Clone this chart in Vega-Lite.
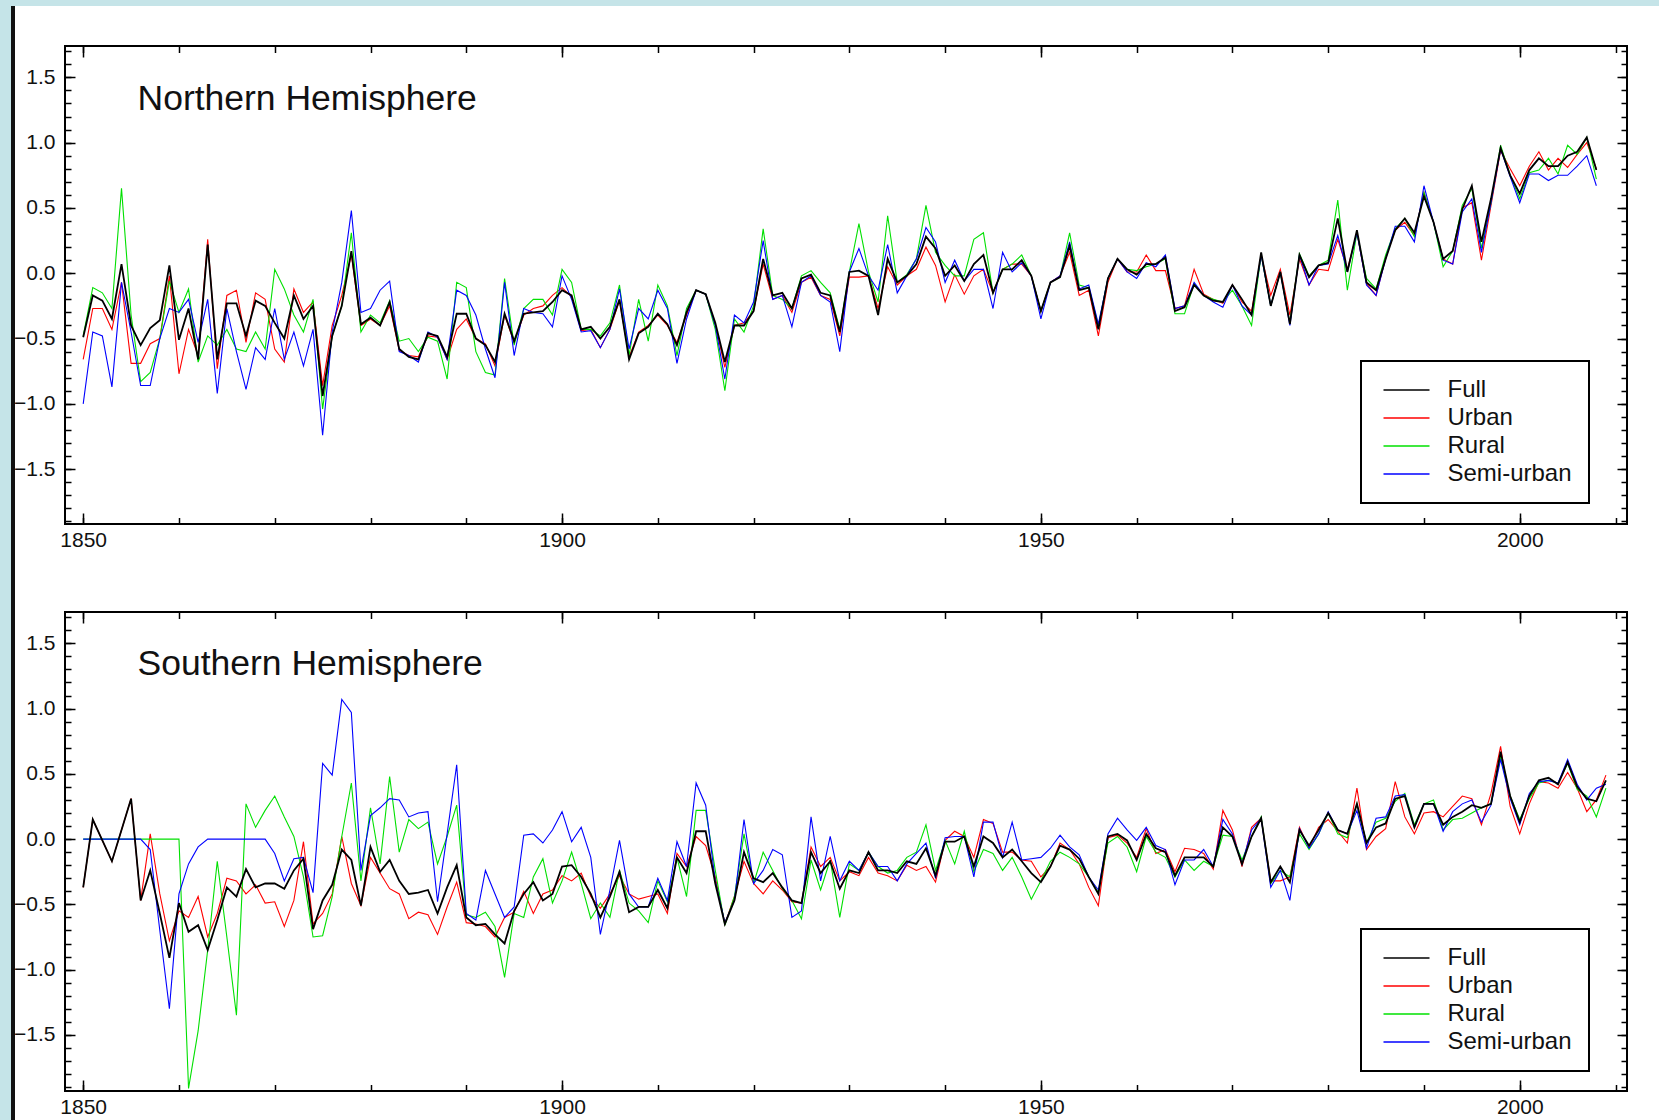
{
  "$schema": "https://vega.github.io/schema/vega-lite/v6.json",
  "background": "white",
  "padding": 0,
  "spacing": 0,
  "config": {
    "view": {"stroke": "black", "strokeWidth": 2},
    "font": "Liberation Sans",
    "axis": {"domain": false, "grid": false, "labelFont": "Liberation Sans", "labelFontSize": 21, "labelColor": "#111111", "tickColor": "#000000", "tickWidth": 1.5, "labelFlush": false, "title": null},
    "legend": {"strokeWidth": 2}
  },
  "resolve": {"scale": {"color": "independent", "x": "independent", "y": "independent"}, "legend": {"color": "independent"}},
  "datasets": {
    "nh": [
      {"year":1850,"Full":-0.49,"Urban":-0.66,"Rural":-0.48,"Semi-urban":-1.00},
      {"year":1851,"Full":-0.17,"Urban":-0.27,"Rural":-0.11,"Semi-urban":-0.45},
      {"year":1852,"Full":-0.21,"Urban":-0.27,"Rural":-0.15,"Semi-urban":-0.48},
      {"year":1853,"Full":-0.35,"Urban":-0.43,"Rural":-0.27,"Semi-urban":-0.87},
      {"year":1854,"Full":0.07,"Urban":-0.07,"Rural":0.65,"Semi-urban":-0.07},
      {"year":1855,"Full":-0.40,"Urban":-0.69,"Rural":-0.32,"Semi-urban":-0.45},
      {"year":1856,"Full":-0.55,"Urban":-0.69,"Rural":-0.83,"Semi-urban":-0.86},
      {"year":1857,"Full":-0.42,"Urban":-0.54,"Rural":-0.76,"Semi-urban":-0.86},
      {"year":1858,"Full":-0.36,"Urban":-0.50,"Rural":-0.50,"Semi-urban":-0.50},
      {"year":1859,"Full":0.06,"Urban":-0.02,"Rural":-0.06,"Semi-urban":-0.27},
      {"year":1860,"Full":-0.51,"Urban":-0.77,"Rural":-0.30,"Semi-urban":-0.30},
      {"year":1861,"Full":-0.27,"Urban":-0.43,"Rural":-0.12,"Semi-urban":-0.20},
      {"year":1862,"Full":-0.66,"Urban":-0.63,"Rural":-0.68,"Semi-urban":-0.53},
      {"year":1863,"Full":0.22,"Urban":0.26,"Rural":-0.48,"Semi-urban":-0.20},
      {"year":1864,"Full":-0.66,"Urban":-0.73,"Rural":-0.55,"Semi-urban":-0.92},
      {"year":1865,"Full":-0.23,"Urban":-0.17,"Rural":-0.43,"Semi-urban":-0.27},
      {"year":1866,"Full":-0.23,"Urban":-0.13,"Rural":-0.58,"Semi-urban":-0.60},
      {"year":1867,"Full":-0.48,"Urban":-0.53,"Rural":-0.60,"Semi-urban":-0.89},
      {"year":1868,"Full":-0.21,"Urban":-0.15,"Rural":-0.45,"Semi-urban":-0.57},
      {"year":1869,"Full":-0.25,"Urban":-0.20,"Rural":-0.58,"Semi-urban":-0.66},
      {"year":1870,"Full":-0.38,"Urban":-0.58,"Rural":0.03,"Semi-urban":-0.27},
      {"year":1871,"Full":-0.50,"Urban":-0.68,"Rural":-0.12,"Semi-urban":-0.66},
      {"year":1872,"Full":-0.17,"Urban":-0.12,"Rural":-0.32,"Semi-urban":-0.45},
      {"year":1873,"Full":-0.35,"Urban":-0.30,"Rural":-0.45,"Semi-urban":-0.71},
      {"year":1874,"Full":-0.25,"Urban":-0.22,"Rural":-0.20,"Semi-urban":-0.43},
      {"year":1875,"Full":-0.94,"Urban":-0.86,"Rural":-1.04,"Semi-urban":-1.24},
      {"year":1876,"Full":-0.48,"Urban":-0.40,"Rural":-0.48,"Semi-urban":-0.45},
      {"year":1877,"Full":-0.25,"Urban":-0.17,"Rural":-0.25,"Semi-urban":-0.07},
      {"year":1878,"Full":0.17,"Urban":0.14,"Rural":0.31,"Semi-urban":0.48},
      {"year":1879,"Full":-0.39,"Urban":-0.40,"Rural":-0.45,"Semi-urban":-0.30},
      {"year":1880,"Full":-0.34,"Urban":-0.35,"Rural":-0.32,"Semi-urban":-0.27},
      {"year":1881,"Full":-0.40,"Urban":-0.40,"Rural":-0.38,"Semi-urban":-0.13},
      {"year":1882,"Full":-0.22,"Urban":-0.25,"Rural":-0.21,"Semi-urban":-0.06},
      {"year":1883,"Full":-0.58,"Urban":-0.59,"Rural":-0.52,"Semi-urban":-0.60},
      {"year":1884,"Full":-0.64,"Urban":-0.63,"Rural":-0.50,"Semi-urban":-0.63},
      {"year":1885,"Full":-0.66,"Urban":-0.64,"Rural":-0.60,"Semi-urban":-0.68},
      {"year":1886,"Full":-0.46,"Urban":-0.48,"Rural":-0.49,"Semi-urban":-0.45},
      {"year":1887,"Full":-0.48,"Urban":-0.49,"Rural":-0.52,"Semi-urban":-0.49},
      {"year":1888,"Full":-0.64,"Urban":-0.66,"Rural":-0.81,"Semi-urban":-0.66},
      {"year":1889,"Full":-0.31,"Urban":-0.43,"Rural":-0.07,"Semi-urban":-0.13},
      {"year":1890,"Full":-0.31,"Urban":-0.35,"Rural":-0.11,"Semi-urban":-0.17},
      {"year":1891,"Full":-0.50,"Urban":-0.50,"Rural":-0.60,"Semi-urban":-0.32},
      {"year":1892,"Full":-0.55,"Urban":-0.54,"Rural":-0.76,"Semi-urban":-0.58},
      {"year":1893,"Full":-0.68,"Urban":-0.71,"Rural":-0.78,"Semi-urban":-0.80},
      {"year":1894,"Full":-0.31,"Urban":-0.32,"Rural":-0.04,"Semi-urban":-0.07},
      {"year":1895,"Full":-0.52,"Urban":-0.53,"Rural":-0.55,"Semi-urban":-0.63},
      {"year":1896,"Full":-0.31,"Urban":-0.32,"Rural":-0.27,"Semi-urban":-0.27},
      {"year":1897,"Full":-0.30,"Urban":-0.27,"Rural":-0.20,"Semi-urban":-0.30},
      {"year":1898,"Full":-0.29,"Urban":-0.25,"Rural":-0.20,"Semi-urban":-0.31},
      {"year":1899,"Full":-0.22,"Urban":-0.17,"Rural":-0.32,"Semi-urban":-0.41},
      {"year":1900,"Full":-0.13,"Urban":-0.11,"Rural":0.03,"Semi-urban":-0.02},
      {"year":1901,"Full":-0.17,"Urban":-0.18,"Rural":-0.07,"Semi-urban":-0.20},
      {"year":1902,"Full":-0.43,"Urban":-0.44,"Rural":-0.43,"Semi-urban":-0.45},
      {"year":1903,"Full":-0.41,"Urban":-0.43,"Rural":-0.43,"Semi-urban":-0.44},
      {"year":1904,"Full":-0.50,"Urban":-0.57,"Rural":-0.48,"Semi-urban":-0.57},
      {"year":1905,"Full":-0.41,"Urban":-0.43,"Rural":-0.38,"Semi-urban":-0.43},
      {"year":1906,"Full":-0.20,"Urban":-0.21,"Rural":-0.09,"Semi-urban":-0.12},
      {"year":1907,"Full":-0.66,"Urban":-0.64,"Rural":-0.63,"Semi-urban":-0.58},
      {"year":1908,"Full":-0.46,"Urban":-0.45,"Rural":-0.20,"Semi-urban":-0.27},
      {"year":1909,"Full":-0.41,"Urban":-0.40,"Rural":-0.52,"Semi-urban":-0.35},
      {"year":1910,"Full":-0.31,"Urban":-0.32,"Rural":-0.09,"Semi-urban":-0.13},
      {"year":1911,"Full":-0.39,"Urban":-0.40,"Rural":-0.25,"Semi-urban":-0.27},
      {"year":1912,"Full":-0.55,"Urban":-0.53,"Rural":-0.63,"Semi-urban":-0.69},
      {"year":1913,"Full":-0.30,"Urban":-0.32,"Rural":-0.27,"Semi-urban":-0.35},
      {"year":1914,"Full":-0.13,"Urban":-0.13,"Rural":-0.13,"Semi-urban":-0.13},
      {"year":1915,"Full":-0.16,"Urban":-0.16,"Rural":-0.16,"Semi-urban":-0.16},
      {"year":1916,"Full":-0.38,"Urban":-0.39,"Rural":-0.43,"Semi-urban":-0.40},
      {"year":1917,"Full":-0.68,"Urban":-0.72,"Rural":-0.90,"Semi-urban":-0.81},
      {"year":1918,"Full":-0.40,"Urban":-0.40,"Rural":-0.35,"Semi-urban":-0.32},
      {"year":1919,"Full":-0.40,"Urban":-0.38,"Rural":-0.45,"Semi-urban":-0.38},
      {"year":1920,"Full":-0.29,"Urban":-0.29,"Rural":-0.25,"Semi-urban":-0.22},
      {"year":1921,"Full":0.11,"Urban":0.07,"Rural":0.34,"Semi-urban":0.25},
      {"year":1922,"Full":-0.17,"Urban":-0.20,"Rural":-0.17,"Semi-urban":-0.20},
      {"year":1923,"Full":-0.15,"Urban":-0.17,"Rural":-0.20,"Semi-urban":-0.17},
      {"year":1924,"Full":-0.27,"Urban":-0.30,"Rural":-0.27,"Semi-urban":-0.41},
      {"year":1925,"Full":-0.04,"Urban":-0.07,"Rural":-0.02,"Semi-urban":-0.07},
      {"year":1926,"Full":-0.01,"Urban":-0.03,"Rural":0.02,"Semi-urban":-0.02},
      {"year":1927,"Full":-0.15,"Urban":-0.17,"Rural":-0.07,"Semi-urban":-0.17},
      {"year":1928,"Full":-0.17,"Urban":-0.20,"Rural":-0.15,"Semi-urban":-0.22},
      {"year":1929,"Full":-0.45,"Urban":-0.48,"Rural":-0.43,"Semi-urban":-0.60},
      {"year":1930,"Full":0.01,"Urban":-0.03,"Rural":0.01,"Semi-urban":0.01},
      {"year":1931,"Full":0.02,"Urban":-0.03,"Rural":0.38,"Semi-urban":0.19},
      {"year":1932,"Full":-0.02,"Urban":-0.02,"Rural":0.01,"Semi-urban":-0.02},
      {"year":1933,"Full":-0.32,"Urban":-0.27,"Rural":-0.22,"Semi-urban":-0.13},
      {"year":1934,"Full":0.11,"Urban":0.05,"Rural":0.44,"Semi-urban":0.22},
      {"year":1935,"Full":-0.07,"Urban":-0.09,"Rural":-0.07,"Semi-urban":-0.15},
      {"year":1936,"Full":-0.02,"Urban":-0.02,"Rural":-0.01,"Semi-urban":-0.02},
      {"year":1937,"Full":0.07,"Urban":0.03,"Rural":0.11,"Semi-urban":0.11},
      {"year":1938,"Full":0.28,"Urban":0.20,"Rural":0.52,"Semi-urban":0.35},
      {"year":1939,"Full":0.19,"Urban":0.06,"Rural":0.16,"Semi-urban":0.24},
      {"year":1940,"Full":-0.02,"Urban":-0.22,"Rural":0.06,"Semi-urban":-0.07},
      {"year":1941,"Full":0.06,"Urban":-0.01,"Rural":-0.02,"Semi-urban":0.10},
      {"year":1942,"Full":-0.06,"Urban":-0.16,"Rural":-0.02,"Semi-urban":-0.06},
      {"year":1943,"Full":0.07,"Urban":-0.02,"Rural":0.26,"Semi-urban":0.03},
      {"year":1944,"Full":0.14,"Urban":0.03,"Rural":0.31,"Semi-urban":0.03},
      {"year":1945,"Full":-0.15,"Urban":-0.15,"Rural":-0.15,"Semi-urban":-0.27},
      {"year":1946,"Full":0.03,"Urban":0.03,"Rural":0.03,"Semi-urban":0.16},
      {"year":1947,"Full":0.03,"Urban":0.07,"Rural":0.07,"Semi-urban":0.01},
      {"year":1948,"Full":0.10,"Urban":0.07,"Rural":0.14,"Semi-urban":0.08},
      {"year":1949,"Full":-0.02,"Urban":-0.02,"Rural":-0.02,"Semi-urban":-0.02},
      {"year":1950,"Full":-0.29,"Urban":-0.29,"Rural":-0.29,"Semi-urban":-0.35},
      {"year":1951,"Full":-0.07,"Urban":-0.07,"Rural":-0.07,"Semi-urban":-0.07},
      {"year":1952,"Full":-0.03,"Urban":-0.02,"Rural":-0.03,"Semi-urban":-0.02},
      {"year":1953,"Full":0.21,"Urban":0.16,"Rural":0.31,"Semi-urban":0.24},
      {"year":1954,"Full":-0.13,"Urban":-0.17,"Rural":-0.09,"Semi-urban":-0.12},
      {"year":1955,"Full":-0.11,"Urban":-0.13,"Rural":-0.11,"Semi-urban":-0.09},
      {"year":1956,"Full":-0.43,"Urban":-0.48,"Rural":-0.40,"Semi-urban":-0.39},
      {"year":1957,"Full":-0.04,"Urban":-0.07,"Rural":-0.04,"Semi-urban":-0.04},
      {"year":1958,"Full":0.11,"Urban":0.11,"Rural":0.11,"Semi-urban":0.11},
      {"year":1959,"Full":0.03,"Urban":0.01,"Rural":0.03,"Semi-urban":0.01},
      {"year":1960,"Full":-0.01,"Urban":0.01,"Rural":0.02,"Semi-urban":-0.04},
      {"year":1961,"Full":0.07,"Urban":0.14,"Rural":0.05,"Semi-urban":0.08},
      {"year":1962,"Full":0.07,"Urban":0.02,"Rural":0.07,"Semi-urban":0.05},
      {"year":1963,"Full":0.12,"Urban":0.02,"Rural":0.11,"Semi-urban":0.14},
      {"year":1964,"Full":-0.29,"Urban":-0.27,"Rural":-0.31,"Semi-urban":-0.27},
      {"year":1965,"Full":-0.26,"Urban":-0.25,"Rural":-0.31,"Semi-urban":-0.25},
      {"year":1966,"Full":-0.09,"Urban":0.03,"Rural":-0.08,"Semi-urban":-0.07},
      {"year":1967,"Full":-0.17,"Urban":-0.16,"Rural":-0.17,"Semi-urban":-0.17},
      {"year":1968,"Full":-0.21,"Urban":-0.20,"Rural":-0.20,"Semi-urban":-0.22},
      {"year":1969,"Full":-0.22,"Urban":-0.23,"Rural":-0.22,"Semi-urban":-0.26},
      {"year":1970,"Full":-0.09,"Urban":-0.09,"Rural":-0.13,"Semi-urban":-0.09},
      {"year":1971,"Full":-0.20,"Urban":-0.22,"Rural":-0.25,"Semi-urban":-0.25},
      {"year":1972,"Full":-0.32,"Urban":-0.29,"Rural":-0.40,"Semi-urban":-0.32},
      {"year":1973,"Full":0.16,"Urban":0.14,"Rural":0.14,"Semi-urban":0.14},
      {"year":1974,"Full":-0.25,"Urban":-0.17,"Rural":-0.25,"Semi-urban":-0.25},
      {"year":1975,"Full":0.01,"Urban":0.03,"Rural":0.01,"Semi-urban":0.01},
      {"year":1976,"Full":-0.39,"Urban":-0.32,"Rural":-0.38,"Semi-urban":-0.40},
      {"year":1977,"Full":0.14,"Urban":0.11,"Rural":0.15,"Semi-urban":0.14},
      {"year":1978,"Full":-0.03,"Urban":-0.09,"Rural":-0.02,"Semi-urban":-0.09},
      {"year":1979,"Full":0.06,"Urban":0.03,"Rural":0.06,"Semi-urban":0.06},
      {"year":1980,"Full":0.08,"Urban":0.02,"Rural":0.10,"Semi-urban":0.07},
      {"year":1981,"Full":0.42,"Urban":0.26,"Rural":0.56,"Semi-urban":0.29},
      {"year":1982,"Full":0.01,"Urban":0.03,"Rural":-0.13,"Semi-urban":0.01},
      {"year":1983,"Full":0.33,"Urban":0.31,"Rural":0.31,"Semi-urban":0.31},
      {"year":1984,"Full":-0.07,"Urban":-0.08,"Rural":-0.04,"Semi-urban":-0.09},
      {"year":1985,"Full":-0.13,"Urban":-0.17,"Rural":-0.12,"Semi-urban":-0.17},
      {"year":1986,"Full":0.11,"Urban":0.12,"Rural":0.14,"Semi-urban":0.11},
      {"year":1987,"Full":0.33,"Urban":0.33,"Rural":0.34,"Semi-urban":0.36},
      {"year":1988,"Full":0.42,"Urban":0.39,"Rural":0.42,"Semi-urban":0.36},
      {"year":1989,"Full":0.31,"Urban":0.29,"Rural":0.28,"Semi-urban":0.24},
      {"year":1990,"Full":0.59,"Urban":0.62,"Rural":0.62,"Semi-urban":0.67},
      {"year":1991,"Full":0.39,"Urban":0.39,"Rural":0.39,"Semi-urban":0.39},
      {"year":1992,"Full":0.11,"Urban":0.11,"Rural":0.05,"Semi-urban":0.10},
      {"year":1993,"Full":0.17,"Urban":0.07,"Rural":0.17,"Semi-urban":0.07},
      {"year":1994,"Full":0.49,"Urban":0.50,"Rural":0.52,"Semi-urban":0.47},
      {"year":1995,"Full":0.67,"Urban":0.54,"Rural":0.65,"Semi-urban":0.57},
      {"year":1996,"Full":0.24,"Urban":0.10,"Rural":0.19,"Semi-urban":0.16},
      {"year":1997,"Full":0.57,"Urban":0.52,"Rural":0.54,"Semi-urban":0.54},
      {"year":1998,"Full":0.96,"Urban":0.94,"Rural":0.98,"Semi-urban":0.95},
      {"year":1999,"Full":0.75,"Urban":0.80,"Rural":0.75,"Semi-urban":0.74},
      {"year":2000,"Full":0.61,"Urban":0.67,"Rural":0.57,"Semi-urban":0.54},
      {"year":2001,"Full":0.79,"Urban":0.82,"Rural":0.77,"Semi-urban":0.76},
      {"year":2002,"Full":0.88,"Urban":0.93,"Rural":0.79,"Semi-urban":0.76},
      {"year":2003,"Full":0.82,"Urban":0.79,"Rural":0.88,"Semi-urban":0.71},
      {"year":2004,"Full":0.82,"Urban":0.88,"Rural":0.76,"Semi-urban":0.75},
      {"year":2005,"Full":0.90,"Urban":0.81,"Rural":0.98,"Semi-urban":0.75},
      {"year":2006,"Full":0.93,"Urban":0.91,"Rural":0.91,"Semi-urban":0.82},
      {"year":2007,"Full":1.04,"Urban":1.00,"Rural":1.04,"Semi-urban":0.90},
      {"year":2008,"Full":0.79,"Urban":0.80,"Rural":0.72,"Semi-urban":0.67}
    ],
    "sh": [
      {"year":1850,"Full":-0.37,"Urban":-0.37,"Rural":0,"Semi-urban":0},
      {"year":1851,"Full":0.15,"Urban":0.15,"Rural":0,"Semi-urban":0},
      {"year":1852,"Full":-0.01,"Urban":-0.01,"Rural":0,"Semi-urban":0},
      {"year":1853,"Full":-0.17,"Urban":-0.17,"Rural":0,"Semi-urban":0},
      {"year":1854,"Full":0.07,"Urban":0.07,"Rural":0,"Semi-urban":0},
      {"year":1855,"Full":0.31,"Urban":0.31,"Rural":0,"Semi-urban":0},
      {"year":1856,"Full":-0.47,"Urban":-0.47,"Rural":0,"Semi-urban":0},
      {"year":1857,"Full":-0.24,"Urban":0.04,"Rural":0,"Semi-urban":-0.08},
      {"year":1858,"Full":-0.57,"Urban":-0.42,"Rural":0,"Semi-urban":-0.70},
      {"year":1859,"Full":-0.91,"Urban":-0.78,"Rural":0,"Semi-urban":-1.30},
      {"year":1860,"Full":-0.49,"Urban":-0.55,"Rural":0,"Semi-urban":-0.42},
      {"year":1861,"Full":-0.71,"Urban":-0.60,"Rural":-1.91,"Semi-urban":-0.19},
      {"year":1862,"Full":-0.66,"Urban":-0.44,"Rural":-1.47,"Semi-urban":-0.06},
      {"year":1863,"Full":-0.85,"Urban":-0.75,"Rural":-0.85,"Semi-urban":0},
      {"year":1864,"Full":-0.62,"Urban":-0.57,"Rural":-0.17,"Semi-urban":0},
      {"year":1865,"Full":-0.37,"Urban":-0.30,"Rural":-0.75,"Semi-urban":0},
      {"year":1866,"Full":-0.44,"Urban":-0.32,"Rural":-1.35,"Semi-urban":0},
      {"year":1867,"Full":-0.23,"Urban":-0.42,"Rural":0.27,"Semi-urban":0},
      {"year":1868,"Full":-0.37,"Urban":-0.35,"Rural":0.09,"Semi-urban":0},
      {"year":1869,"Full":-0.34,"Urban":-0.49,"Rural":0.22,"Semi-urban":0},
      {"year":1870,"Full":-0.34,"Urban":-0.48,"Rural":0.33,"Semi-urban":-0.11},
      {"year":1871,"Full":-0.38,"Urban":-0.67,"Rural":0.17,"Semi-urban":-0.32},
      {"year":1872,"Full":-0.24,"Urban":-0.47,"Rural":0.02,"Semi-urban":-0.15},
      {"year":1873,"Full":-0.15,"Urban":-0.02,"Rural":-0.29,"Semi-urban":-0.14},
      {"year":1874,"Full":-0.69,"Urban":-0.65,"Rural":-0.75,"Semi-urban":-0.41},
      {"year":1875,"Full":-0.47,"Urban":-0.57,"Rural":-0.74,"Semi-urban":0.58},
      {"year":1876,"Full":-0.35,"Urban":-0.42,"Rural":-0.44,"Semi-urban":0.49},
      {"year":1877,"Full":-0.08,"Urban":0.02,"Rural":0.02,"Semi-urban":1.07},
      {"year":1878,"Full":-0.16,"Urban":-0.34,"Rural":0.43,"Semi-urban":0.97},
      {"year":1879,"Full":-0.51,"Urban":-0.51,"Rural":-0.32,"Semi-urban":-0.24},
      {"year":1880,"Full":-0.06,"Urban":-0.14,"Rural":0.24,"Semi-urban":0.18},
      {"year":1881,"Full":-0.25,"Urban":-0.26,"Rural":-0.19,"Semi-urban":0.24},
      {"year":1882,"Full":-0.16,"Urban":-0.38,"Rural":0.48,"Semi-urban":0.31},
      {"year":1883,"Full":-0.32,"Urban":-0.42,"Rural":-0.10,"Semi-urban":0.30},
      {"year":1884,"Full":-0.42,"Urban":-0.61,"Rural":0.15,"Semi-urban":0.17},
      {"year":1885,"Full":-0.41,"Urban":-0.56,"Rural":0.08,"Semi-urban":0.20},
      {"year":1886,"Full":-0.39,"Urban":-0.58,"Rural":0.13,"Semi-urban":0.21},
      {"year":1887,"Full":-0.57,"Urban":-0.73,"Rural":-0.19,"Semi-urban":-0.48},
      {"year":1888,"Full":-0.37,"Urban":-0.52,"Rural":0.02,"Semi-urban":0.04},
      {"year":1889,"Full":-0.20,"Urban":-0.33,"Rural":0.26,"Semi-urban":0.57},
      {"year":1890,"Full":-0.60,"Urban":-0.64,"Rural":-0.58,"Semi-urban":-0.57},
      {"year":1891,"Full":-0.66,"Urban":-0.65,"Rural":-0.60,"Semi-urban":-0.62},
      {"year":1892,"Full":-0.65,"Urban":-0.67,"Rural":-0.56,"Semi-urban":-0.24},
      {"year":1893,"Full":-0.73,"Urban":-0.75,"Rural":-0.67,"Semi-urban":-0.42},
      {"year":1894,"Full":-0.80,"Urban":-0.60,"Rural":-1.06,"Semi-urban":-0.60},
      {"year":1895,"Full":-0.55,"Urban":-0.56,"Rural":-0.57,"Semi-urban":-0.52},
      {"year":1896,"Full":-0.42,"Urban":-0.40,"Rural":-0.60,"Semi-urban":0.03},
      {"year":1897,"Full":-0.33,"Urban":-0.57,"Rural":-0.29,"Semi-urban":0.04},
      {"year":1898,"Full":-0.47,"Urban":-0.42,"Rural":-0.15,"Semi-urban":-0.03},
      {"year":1899,"Full":-0.42,"Urban":-0.39,"Rural":-0.49,"Semi-urban":0.07},
      {"year":1900,"Full":-0.21,"Urban":-0.28,"Rural":-0.32,"Semi-urban":0.21},
      {"year":1901,"Full":-0.20,"Urban":-0.32,"Rural":-0.10,"Semi-urban":-0.02},
      {"year":1902,"Full":-0.29,"Urban":-0.26,"Rural":-0.34,"Semi-urban":0.09},
      {"year":1903,"Full":-0.42,"Urban":-0.44,"Rural":-0.61,"Semi-urban":-0.14},
      {"year":1904,"Full":-0.60,"Urban":-0.53,"Rural":-0.49,"Semi-urban":-0.73},
      {"year":1905,"Full":-0.44,"Urban":-0.42,"Rural":-0.60,"Semi-urban":-0.39},
      {"year":1906,"Full":-0.25,"Urban":-0.28,"Rural":-0.24,"Semi-urban":-0.01},
      {"year":1907,"Full":-0.56,"Urban":-0.42,"Rural":-0.49,"Semi-urban":-0.42},
      {"year":1908,"Full":-0.52,"Urban":-0.46,"Rural":-0.55,"Semi-urban":-0.52},
      {"year":1909,"Full":-0.52,"Urban":-0.44,"Rural":-0.64,"Semi-urban":-0.52},
      {"year":1910,"Full":-0.39,"Urban":-0.42,"Rural":-0.32,"Semi-urban":-0.30},
      {"year":1911,"Full":-0.53,"Urban":-0.57,"Rural":-0.48,"Semi-urban":-0.47},
      {"year":1912,"Full":-0.14,"Urban":-0.11,"Rural":-0.14,"Semi-urban":-0.02},
      {"year":1913,"Full":-0.26,"Urban":-0.21,"Rural":-0.44,"Semi-urban":-0.21},
      {"year":1914,"Full":0.06,"Urban":0.02,"Rural":0.22,"Semi-urban":0.43},
      {"year":1915,"Full":0.06,"Urban":-0.05,"Rural":0.22,"Semi-urban":0.26},
      {"year":1916,"Full":-0.34,"Urban":-0.29,"Rural":-0.24,"Semi-urban":-0.32},
      {"year":1917,"Full":-0.65,"Urban":-0.65,"Rural":-0.66,"Semi-urban":-0.64},
      {"year":1918,"Full":-0.47,"Urban":-0.44,"Rural":-0.44,"Semi-urban":-0.47},
      {"year":1919,"Full":-0.10,"Urban":-0.17,"Rural":0.04,"Semi-urban":0.15},
      {"year":1920,"Full":-0.30,"Urban":-0.34,"Rural":-0.34,"Semi-urban":-0.34},
      {"year":1921,"Full":-0.33,"Urban":-0.42,"Rural":-0.10,"Semi-urban":-0.24},
      {"year":1922,"Full":-0.26,"Urban":-0.32,"Rural":-0.24,"Semi-urban":-0.08},
      {"year":1923,"Full":-0.37,"Urban":-0.39,"Rural":-0.38,"Semi-urban":-0.12},
      {"year":1924,"Full":-0.47,"Urban":-0.48,"Rural":-0.47,"Semi-urban":-0.60},
      {"year":1925,"Full":-0.49,"Urban":-0.49,"Rural":-0.61,"Semi-urban":-0.55},
      {"year":1926,"Full":-0.10,"Urban":-0.06,"Rural":-0.16,"Semi-urban":0.17},
      {"year":1927,"Full":-0.26,"Urban":-0.21,"Rural":-0.39,"Semi-urban":-0.32},
      {"year":1928,"Full":-0.17,"Urban":-0.14,"Rural":-0.16,"Semi-urban":0.02},
      {"year":1929,"Full":-0.38,"Urban":-0.32,"Rural":-0.60,"Semi-urban":-0.32},
      {"year":1930,"Full":-0.24,"Urban":-0.25,"Rural":-0.19,"Semi-urban":-0.17},
      {"year":1931,"Full":-0.26,"Urban":-0.28,"Rural":-0.24,"Semi-urban":-0.24},
      {"year":1932,"Full":-0.10,"Urban":-0.14,"Rural":-0.10,"Semi-urban":-0.10},
      {"year":1933,"Full":-0.24,"Urban":-0.26,"Rural":-0.21,"Semi-urban":-0.21},
      {"year":1934,"Full":-0.24,"Urban":-0.28,"Rural":-0.26,"Semi-urban":-0.21},
      {"year":1935,"Full":-0.26,"Urban":-0.32,"Rural":-0.24,"Semi-urban":-0.32},
      {"year":1936,"Full":-0.17,"Urban":-0.20,"Rural":-0.14,"Semi-urban":-0.19},
      {"year":1937,"Full":-0.19,"Urban":-0.24,"Rural":-0.10,"Semi-urban":-0.11},
      {"year":1938,"Full":-0.07,"Urban":-0.21,"Rural":0.11,"Semi-urban":-0.03},
      {"year":1939,"Full":-0.28,"Urban":-0.33,"Rural":-0.24,"Semi-urban":-0.30},
      {"year":1940,"Full":-0.02,"Urban":-0.01,"Rural":-0.01,"Semi-urban":0.01},
      {"year":1941,"Full":-0.02,"Urban":0.06,"Rural":-0.19,"Semi-urban":0.02},
      {"year":1942,"Full":0.02,"Urban":0.02,"Rural":0.06,"Semi-urban":0.02},
      {"year":1943,"Full":-0.21,"Urban":-0.14,"Rural":-0.25,"Semi-urban":-0.29},
      {"year":1944,"Full":0.02,"Urban":0.15,"Rural":-0.08,"Semi-urban":0.13},
      {"year":1945,"Full":-0.03,"Urban":0.12,"Rural":-0.11,"Semi-urban":0.13},
      {"year":1946,"Full":-0.14,"Urban":-0.10,"Rural":-0.24,"Semi-urban":-0.14},
      {"year":1947,"Full":-0.08,"Urban":-0.10,"Rural":-0.14,"Semi-urban":0.13},
      {"year":1948,"Full":-0.17,"Urban":-0.16,"Rural":-0.29,"Semi-urban":-0.16},
      {"year":1949,"Full":-0.26,"Urban":-0.17,"Rural":-0.46,"Semi-urban":-0.15},
      {"year":1950,"Full":-0.33,"Urban":-0.29,"Rural":-0.32,"Semi-urban":-0.14},
      {"year":1951,"Full":-0.21,"Urban":-0.21,"Rural":-0.17,"Semi-urban":-0.07},
      {"year":1952,"Full":-0.05,"Urban":-0.03,"Rural":-0.10,"Semi-urban":0.03},
      {"year":1953,"Full":-0.08,"Urban":-0.08,"Rural":-0.14,"Semi-urban":-0.06},
      {"year":1954,"Full":-0.15,"Urban":-0.19,"Rural":-0.19,"Semi-urban":-0.12},
      {"year":1955,"Full":-0.29,"Urban":-0.37,"Rural":-0.29,"Semi-urban":-0.29},
      {"year":1956,"Full":-0.42,"Urban":-0.51,"Rural":-0.41,"Semi-urban":-0.39},
      {"year":1957,"Full":0.02,"Urban":0.01,"Rural":-0.03,"Semi-urban":0.04},
      {"year":1958,"Full":0.04,"Urban":0.03,"Rural":0.02,"Semi-urban":0.16},
      {"year":1959,"Full":-0.01,"Urban":-0.03,"Rural":-0.06,"Semi-urban":0.07},
      {"year":1960,"Full":-0.16,"Urban":-0.14,"Rural":-0.25,"Semi-urban":-0.01},
      {"year":1961,"Full":0.04,"Urban":0.08,"Rural":0.02,"Semi-urban":0.09},
      {"year":1962,"Full":-0.07,"Urban":-0.11,"Rural":-0.10,"Semi-urban":-0.05},
      {"year":1963,"Full":-0.10,"Urban":-0.08,"Rural":-0.14,"Semi-urban":-0.08},
      {"year":1964,"Full":-0.28,"Urban":-0.25,"Rural":-0.29,"Semi-urban":-0.35},
      {"year":1965,"Full":-0.14,"Urban":-0.07,"Rural":-0.16,"Semi-urban":-0.16},
      {"year":1966,"Full":-0.14,"Urban":-0.08,"Rural":-0.24,"Semi-urban":-0.16},
      {"year":1967,"Full":-0.14,"Urban":-0.11,"Rural":-0.17,"Semi-urban":-0.08},
      {"year":1968,"Full":-0.21,"Urban":-0.23,"Rural":-0.21,"Semi-urban":-0.21},
      {"year":1969,"Full":0.09,"Urban":0.22,"Rural":0.03,"Semi-urban":0.15},
      {"year":1970,"Full":0.02,"Urban":0.07,"Rural":0.02,"Semi-urban":0.04},
      {"year":1971,"Full":-0.19,"Urban":-0.21,"Rural":-0.16,"Semi-urban":-0.19},
      {"year":1972,"Full":0.02,"Urban":0.09,"Rural":0.02,"Semi-urban":0.07},
      {"year":1973,"Full":0.16,"Urban":0.16,"Rural":0.17,"Semi-urban":0.16},
      {"year":1974,"Full":-0.33,"Urban":-0.32,"Rural":-0.34,"Semi-urban":-0.37},
      {"year":1975,"Full":-0.21,"Urban":-0.32,"Rural":-0.24,"Semi-urban":-0.24},
      {"year":1976,"Full":-0.33,"Urban":-0.29,"Rural":-0.29,"Semi-urban":-0.47},
      {"year":1977,"Full":0.07,"Urban":0.09,"Rural":0.04,"Semi-urban":0.08},
      {"year":1978,"Full":-0.05,"Urban":-0.07,"Rural":-0.08,"Semi-urban":-0.07},
      {"year":1979,"Full":0.07,"Urban":0.09,"Rural":0.04,"Semi-urban":0.04},
      {"year":1980,"Full":0.20,"Urban":0.15,"Rural":0.20,"Semi-urban":0.21},
      {"year":1981,"Full":0.07,"Urban":0.06,"Rural":0.04,"Semi-urban":0.07},
      {"year":1982,"Full":0.04,"Urban":-0.03,"Rural":0.01,"Semi-urban":0.04},
      {"year":1983,"Full":0.27,"Urban":0.39,"Rural":0.27,"Semi-urban":0.22},
      {"year":1984,"Full":-0.03,"Urban":-0.08,"Rural":-0.03,"Semi-urban":-0.07},
      {"year":1985,"Full":0.09,"Urban":0.02,"Rural":0.13,"Semi-urban":0.16},
      {"year":1986,"Full":0.12,"Urban":0.08,"Rural":0.16,"Semi-urban":0.17},
      {"year":1987,"Full":0.31,"Urban":0.44,"Rural":0.29,"Semi-urban":0.33},
      {"year":1988,"Full":0.33,"Urban":0.17,"Rural":0.35,"Semi-urban":0.34},
      {"year":1989,"Full":0.09,"Urban":0.04,"Rural":0.11,"Semi-urban":0.09},
      {"year":1990,"Full":0.27,"Urban":0.20,"Rural":0.27,"Semi-urban":0.27},
      {"year":1991,"Full":0.27,"Urban":0.21,"Rural":0.30,"Semi-urban":0.27},
      {"year":1992,"Full":0.11,"Urban":0.17,"Rural":0.07,"Semi-urban":0.06},
      {"year":1993,"Full":0.17,"Urban":0.25,"Rural":0.15,"Semi-urban":0.21},
      {"year":1994,"Full":0.21,"Urban":0.33,"Rural":0.16,"Semi-urban":0.27},
      {"year":1995,"Full":0.26,"Urban":0.31,"Rural":0.20,"Semi-urban":0.30},
      {"year":1996,"Full":0.24,"Urban":0.11,"Rural":0.24,"Semi-urban":0.13},
      {"year":1997,"Full":0.27,"Urban":0.35,"Rural":0.27,"Semi-urban":0.26},
      {"year":1998,"Full":0.67,"Urban":0.71,"Rural":0.63,"Semi-urban":0.61},
      {"year":1999,"Full":0.33,"Urban":0.25,"Rural":0.33,"Semi-urban":0.31},
      {"year":2000,"Full":0.13,"Urban":0.04,"Rural":0.15,"Semi-urban":0.11},
      {"year":2001,"Full":0.33,"Urban":0.27,"Rural":0.31,"Semi-urban":0.35},
      {"year":2002,"Full":0.45,"Urban":0.44,"Rural":0.43,"Semi-urban":0.44},
      {"year":2003,"Full":0.47,"Urban":0.43,"Rural":0.45,"Semi-urban":0.45},
      {"year":2004,"Full":0.42,"Urban":0.39,"Rural":0.43,"Semi-urban":0.43},
      {"year":2005,"Full":0.59,"Urban":0.51,"Rural":0.58,"Semi-urban":0.61},
      {"year":2006,"Full":0.40,"Urban":0.39,"Rural":0.38,"Semi-urban":0.42},
      {"year":2007,"Full":0.31,"Urban":0.21,"Rural":0.33,"Semi-urban":0.30},
      {"year":2008,"Full":0.29,"Urban":0.30,"Rural":0.17,"Semi-urban":0.39},
      {"year":2009,"Full":0.45,"Urban":0.49,"Rural":0.39,"Semi-urban":0.42}
    ]
  },
  "vconcat": [
    {
      "width": 1659, "height": 6,
      "view": {"stroke": null, "fill": "#c5e4e8"},
      "data": {"values": [{}]},
      "mark": {"type": "point", "opacity": 0}
    },
    {
      "spacing": -4,
      "resolve": {"scale": {"color": "independent", "x": "independent", "y": "independent"}, "legend": {"color": "independent"}},
      "hconcat": [
        {
          "width": 11, "height": 1114,
          "view": {"stroke": null, "fill": "#c5e4e8"},
          "data": {"values": [{}]},
          "mark": {"type": "point", "opacity": 0}
        },
        {
          "width": 4, "height": 1114,
          "view": {"stroke": null, "fill": "#111111"},
          "data": {"values": [{}]},
          "mark": {"type": "point", "opacity": 0}
        },
        {
          "spacing": 0,
          "resolve": {"scale": {"color": "independent", "x": "independent", "y": "independent"}, "legend": {"color": "independent"}},
          "vconcat": [
            {
              "width": 1562, "height": 38,
              "view": {"stroke": null},
              "data": {"values": [{}]},
              "mark": {"type": "point", "opacity": 0}
            },
            {
              "spacing": 59,
              "resolve": {"scale": {"color": "independent", "x": "independent", "y": "independent"}, "legend": {"color": "independent"}},
              "vconcat": [
                {
                  "width": 1562, "height": 478,
                  "title": {"text": "Northern Hemisphere", "anchor": "start", "frame": "group", "offset": -72, "dx": 72.5, "fontSize": 35.5, "font": "Liberation Sans", "fontWeight": "normal", "color": "#111111"},
                  "data": {"name": "nh"},
                  "transform": [{"fold": ["Urban", "Rural", "Semi-urban", "Full"], "as": ["series", "value"]}],
                  "resolve": {"axis": {"x": "independent", "y": "independent"}},
                  "layer": [
                    {
                      "transform": [{"filter": "datum.series == 'Urban'"}],
                      "mark": {"type": "line", "strokeWidth": 1.1, "clip": true},
                      "encoding": {
                        "x": {"field": "year", "type": "quantitative", "scale": {"domain": [1848.1, 2011.2], "nice": false, "zero": false},
                              "axis": {"orient": "bottom", "values": [1850, 1900, 1950, 2000], "tickSize": -11, "labelPadding": 16, "format": "d"}},
                        "y": {"field": "value", "type": "quantitative", "scale": {"domain": [-1.92, 1.74], "nice": false, "zero": false},
                              "axis": {"orient": "left", "values": [-1.5, -1, -0.5, 0, 0.5, 1, 1.5], "tickSize": -10, "labelPadding": 20, "format": ".1f"}},
                        "color": {"field": "series", "type": "nominal",
                                  "scale": {"domain": ["Full", "Urban", "Rural", "Semi-urban"], "range": ["#000000", "#ff0000", "#00e000", "#0000ff"]},
                                  "legend": {"title": null, "orient": "none", "legendX": 1296, "legendY": 315, "symbolType": "M-2.3,0H2.3", "symbolSize": 400, "symbolOffset": 16.5, "symbolStrokeWidth": 1.6, "labelFontSize": 24, "labelFont": "Liberation Sans", "labelColor": "#111111", "labelOffset": 29, "padding": 17, "rowPadding": 4, "strokeColor": "#000000", "fillColor": "#ffffff"}}
                      }
                    },
                    {
                      "transform": [{"filter": "datum.series == 'Rural'"}],
                      "mark": {"type": "line", "strokeWidth": 1.1, "clip": true},
                      "encoding": {
                        "x": {"field": "year", "type": "quantitative", "axis": {"orient": "bottom", "values": [1850, 1860, 1870, 1880, 1890, 1900, 1910, 1920, 1930, 1940, 1950, 1960, 1970, 1980, 1990, 2000, 2010], "tickSize": -6.5, "labels": false}},
                        "y": {"field": "value", "type": "quantitative", "axis": {"orient": "left", "values": [-1.9, -1.8, -1.7, -1.6, -1.5, -1.4, -1.3, -1.2, -1.1, -1.0, -0.9, -0.8, -0.7, -0.6, -0.5, -0.4, -0.3, -0.2, -0.1, 0, 0.1, 0.2, 0.3, 0.4, 0.5, 0.6, 0.7, 0.8, 0.9, 1.0, 1.1, 1.2, 1.3, 1.4, 1.5, 1.6, 1.7], "tickSize": -6, "labels": false}},
                        "color": {"field": "series", "type": "nominal"}
                      }
                    },
                    {
                      "transform": [{"filter": "datum.series == 'Semi-urban'"}],
                      "mark": {"type": "line", "strokeWidth": 1.1, "clip": true},
                      "encoding": {
                        "x": {"field": "year", "type": "quantitative", "axis": {"orient": "top", "values": [1850, 1900, 1950, 2000], "tickSize": -11, "labels": false}},
                        "y": {"field": "value", "type": "quantitative", "axis": {"orient": "right", "values": [-1.5, -1, -0.5, 0, 0.5, 1, 1.5], "tickSize": -10, "labels": false}},
                        "color": {"field": "series", "type": "nominal"}
                      }
                    },
                    {
                      "transform": [{"filter": "datum.series == 'Full'"}],
                      "mark": {"type": "line", "strokeWidth": 1.8, "clip": true},
                      "encoding": {
                        "x": {"field": "year", "type": "quantitative", "axis": {"orient": "top", "values": [1850, 1860, 1870, 1880, 1890, 1900, 1910, 1920, 1930, 1940, 1950, 1960, 1970, 1980, 1990, 2000, 2010], "tickSize": -6.5, "labels": false}},
                        "y": {"field": "value", "type": "quantitative", "axis": {"orient": "right", "values": [-1.9, -1.8, -1.7, -1.6, -1.5, -1.4, -1.3, -1.2, -1.1, -1.0, -0.9, -0.8, -0.7, -0.6, -0.5, -0.4, -0.3, -0.2, -0.1, 0, 0.1, 0.2, 0.3, 0.4, 0.5, 0.6, 0.7, 0.8, 0.9, 1.0, 1.1, 1.2, 1.3, 1.4, 1.5, 1.6, 1.7], "tickSize": -6, "labels": false}},
                        "color": {"field": "series", "type": "nominal"}
                      }
                    }
                  ]
                },
                {
                  "width": 1562, "height": 479,
                  "title": {"text": "Southern Hemisphere", "anchor": "start", "frame": "group", "offset": -71, "dx": 72.5, "fontSize": 35.5, "font": "Liberation Sans", "fontWeight": "normal", "color": "#111111"},
                  "data": {"name": "sh"},
                  "transform": [{"fold": ["Urban", "Rural", "Semi-urban", "Full"], "as": ["series", "value"]}],
                  "resolve": {"axis": {"x": "independent", "y": "independent"}},
                  "layer": [
                    {
                      "transform": [{"filter": "datum.series == 'Urban'"}],
                      "mark": {"type": "line", "strokeWidth": 1.1, "clip": true},
                      "encoding": {
                        "x": {"field": "year", "type": "quantitative", "scale": {"domain": [1848.1, 2011.2], "nice": false, "zero": false},
                              "axis": {"orient": "bottom", "values": [1850, 1900, 1950, 2000], "tickSize": -11, "labelPadding": 16, "format": "d"}},
                        "y": {"field": "value", "type": "quantitative", "scale": {"domain": [-1.93, 1.74], "nice": false, "zero": false},
                              "axis": {"orient": "left", "values": [-1.5, -1, -0.5, 0, 0.5, 1, 1.5], "tickSize": -10, "labelPadding": 20, "format": ".1f"}},
                        "color": {"field": "series", "type": "nominal",
                                  "scale": {"domain": ["Full", "Urban", "Rural", "Semi-urban"], "range": ["#000000", "#ff0000", "#00e000", "#0000ff"]},
                                  "legend": {"title": null, "orient": "none", "legendX": 1296, "legendY": 317, "symbolType": "M-2.3,0H2.3", "symbolSize": 400, "symbolOffset": 16.5, "symbolStrokeWidth": 1.6, "labelFontSize": 24, "labelFont": "Liberation Sans", "labelColor": "#111111", "labelOffset": 29, "padding": 17, "rowPadding": 4, "strokeColor": "#000000", "fillColor": "#ffffff"}}
                      }
                    },
                    {
                      "transform": [{"filter": "datum.series == 'Rural'"}],
                      "mark": {"type": "line", "strokeWidth": 1.1, "clip": true},
                      "encoding": {
                        "x": {"field": "year", "type": "quantitative", "axis": {"orient": "bottom", "values": [1850, 1860, 1870, 1880, 1890, 1900, 1910, 1920, 1930, 1940, 1950, 1960, 1970, 1980, 1990, 2000, 2010], "tickSize": -6.5, "labels": false}},
                        "y": {"field": "value", "type": "quantitative", "axis": {"orient": "left", "values": [-1.9, -1.8, -1.7, -1.6, -1.5, -1.4, -1.3, -1.2, -1.1, -1.0, -0.9, -0.8, -0.7, -0.6, -0.5, -0.4, -0.3, -0.2, -0.1, 0, 0.1, 0.2, 0.3, 0.4, 0.5, 0.6, 0.7, 0.8, 0.9, 1.0, 1.1, 1.2, 1.3, 1.4, 1.5, 1.6, 1.7], "tickSize": -6, "labels": false}},
                        "color": {"field": "series", "type": "nominal"}
                      }
                    },
                    {
                      "transform": [{"filter": "datum.series == 'Semi-urban'"}],
                      "mark": {"type": "line", "strokeWidth": 1.1, "clip": true},
                      "encoding": {
                        "x": {"field": "year", "type": "quantitative", "axis": {"orient": "top", "values": [1850, 1900, 1950, 2000], "tickSize": -11, "labels": false}},
                        "y": {"field": "value", "type": "quantitative", "axis": {"orient": "right", "values": [-1.5, -1, -0.5, 0, 0.5, 1, 1.5], "tickSize": -10, "labels": false}},
                        "color": {"field": "series", "type": "nominal"}
                      }
                    },
                    {
                      "transform": [{"filter": "datum.series == 'Full'"}],
                      "mark": {"type": "line", "strokeWidth": 1.8, "clip": true},
                      "encoding": {
                        "x": {"field": "year", "type": "quantitative", "axis": {"orient": "top", "values": [1850, 1860, 1870, 1880, 1890, 1900, 1910, 1920, 1930, 1940, 1950, 1960, 1970, 1980, 1990, 2000, 2010], "tickSize": -6.5, "labels": false}},
                        "y": {"field": "value", "type": "quantitative", "axis": {"orient": "right", "values": [-1.9, -1.8, -1.7, -1.6, -1.5, -1.4, -1.3, -1.2, -1.1, -1.0, -0.9, -0.8, -0.7, -0.6, -0.5, -0.4, -0.3, -0.2, -0.1, 0, 0.1, 0.2, 0.3, 0.4, 0.5, 0.6, 0.7, 0.8, 0.9, 1.0, 1.1, 1.2, 1.3, 1.4, 1.5, 1.6, 1.7], "tickSize": -6, "labels": false}},
                        "color": {"field": "series", "type": "nominal"}
                      }
                    }
                  ]
                }
              ]
            }
          ]
        }
      ]
    }
  ]
}
